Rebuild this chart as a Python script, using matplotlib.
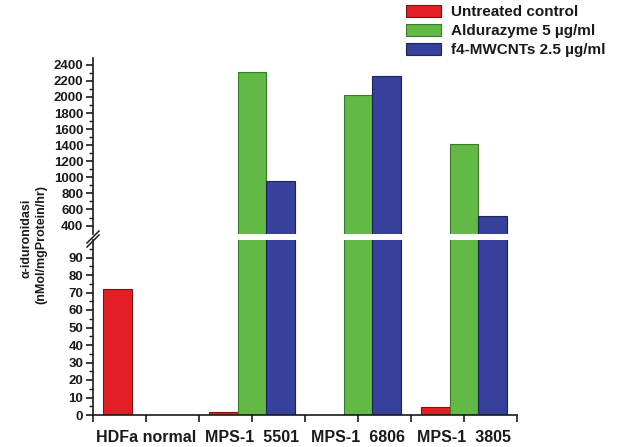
import numpy as np
import matplotlib
matplotlib.use("Agg")
import matplotlib.pyplot as plt
from matplotlib.patches import Patch
from matplotlib.lines import Line2D

plt.rcParams['font.family'] = ['Liberation Sans', 'DejaVu Sans']
plt.rcParams['font.weight'] = 'bold'

categories = ["HDFa normal", "MPS-1  5501", "MPS-1  6806", "MPS-1  3805"]
series_names = ["Untreated control", "Aldurazyme 5 \u00b5g/ml", "f4-MWCNTs 2.5 \u00b5g/ml"]
untreated = [72, 1.5, 0, 4.4]
aldurazyme = [0, 2316, 2020, 1419]
mwcnts = [0, 959, 2262, 520]
upper_ticks = [400, 600, 800, 1000, 1200, 1400, 1600, 1800, 2000, 2200, 2400]
lower_ticks = [0, 10, 20, 30, 40, 50, 60, 70, 80, 90]

colors = ["#E41E26", "#62B946", "#35419B"]
edges = ["#7a1414", "#3a7a28", "#1c2460"]
txt = "#1a1a1a"

W, H = 621, 447
fig = plt.figure(figsize=(W / 100, H / 100), dpi=100)
fig.patch.set_facecolor("white")

left = 93 / W
width = (517 - 93) / W
ax_lo = fig.add_axes([left, (H - 415) / H, width, (415 - 240) / H])
ax_hi = fig.add_axes([left, (H - 234) / H, width, (234 - 58) / H])

x = np.arange(1, len(categories) + 1)
bw = 0.27
series = [untreated, aldurazyme, mwcnts]
offsets = [-bw, 0, bw]

for ax in (ax_lo, ax_hi):
    for s, off, c, e in zip(series, offsets, colors, edges):
        ax.bar(x + off, s, width=bw, color=c, edgecolor=e, linewidth=0.8, zorder=2)
    ax.set_xlim(0.5, 4.5)
    ax.spines['top'].set_visible(False)
    ax.spines['right'].set_visible(False)
    ax.spines['left'].set_linewidth(1.2)
    ax.spines['left'].set_color(txt)
    ax.tick_params(axis='y', which='major', length=5, width=1.2, colors=txt,
                   labelsize=9.5, pad=2)
    ax.tick_params(axis='y', which='minor', length=3, width=1.0, colors=txt)
    ax.set_facecolor('none')

ax_lo.set_ylim(0, 100)
ax_lo.set_yticks(lower_ticks)
ax_lo.set_yticks(np.arange(5, 100, 10), minor=True)
ax_lo.spines['bottom'].set_linewidth(1.2)
ax_lo.spines['bottom'].set_color(txt)
ticks = np.arange(0.5, 4.51, 0.5)
labels = []
for t in ticks:
    labels.append(categories[int(t) - 1] if abs(t - round(t)) < 1e-6 else "")
ax_lo.set_xticks(ticks)
ax_lo.set_xticklabels(labels, fontsize=11.5, fontweight='bold', color=txt)
ax_lo.tick_params(axis='x', length=5, width=1.2, colors=txt, pad=6)
for lab in ax_lo.get_xticklabels():
    lab.set_color(txt)

ax_hi.set_ylim(295, 2485)
ax_hi.set_yticks(upper_ticks)
ax_hi.set_yticks(np.arange(500, 2400, 200), minor=True)
ax_hi.spines['bottom'].set_visible(False)
ax_hi.set_xticks([])

for ax in (ax_lo, ax_hi):
    for lab in ax.get_yticklabels():
        lab.set_fontweight('bold')
        lab.set_color(txt)

# break marks on the y axis
for dy in (0, 4):
    fig.add_artist(Line2D([87 / W, 99 / W], [1 - (245 + dy - 2) / H, 1 - (233 + dy - 2) / H],
                          transform=fig.transFigure, color=txt, linewidth=1.1))

fig.text(27 / W, 1 - 238 / H, "\u03b1-iduronidasi", rotation=90, ha='center', va='center',
         fontsize=9, fontweight='bold', color=txt)
fig.text(41 / W, 1 - 245 / H, "(nMol/mgProtein/hr)", rotation=90, ha='center', va='center',
         fontsize=9, fontweight='bold', color=txt)

handles = [Patch(facecolor=c, edgecolor=e, linewidth=0.8) for c, e in zip(colors, edges)]
fig.legend(handles, series_names, loc='upper left', bbox_to_anchor=(406 / W, 1 - 5 / H),
           frameon=False, handlelength=2.3, handleheight=0.85,
           handletextpad=0.65, labelspacing=0.3, borderaxespad=0, borderpad=0,
           prop={'weight': 'bold', 'size': 11})
for t in fig.legends[0].get_texts():
    t.set_color(txt)

fig.savefig("out.png", dpi=100, facecolor="white")
